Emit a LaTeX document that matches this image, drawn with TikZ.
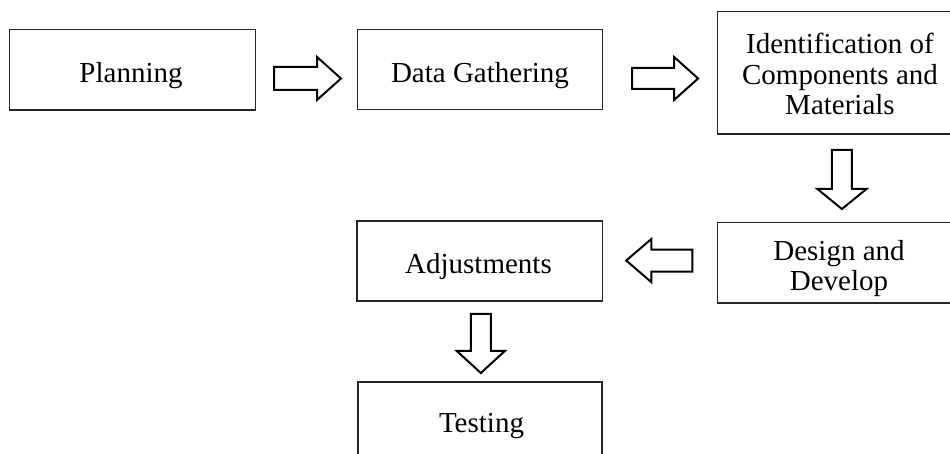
\documentclass[tikz,border=0pt]{standalone}
\usepackage{fontspec}
\setmainfont{Liberation Serif}
\usetikzlibrary{calc}
\tikzset{
  box/.style={draw=black!85, line width=0.6pt, rectangle, inner sep=0pt},
  openbox/.style={rectangle, inner sep=0pt},
  boxline/.style={draw=black!85, line width=0.6pt},
  lbl/.style={anchor=base, inner sep=0pt, font=\fontsize{14.5pt}{15.25pt}\selectfont},
  barrowline/.style={draw=black, line width=1pt, line join=miter, fill=white},
  pics/blockarrow/.style n args={4}{code={
    \draw[barrowline] (-#1/2,-#4) -- (#1/2-#2,-#4) -- (#1/2-#2,-#3) -- (#1/2,0)
      -- (#1/2-#2,#3) -- (#1/2-#2,#4) -- (-#1/2,#4) -- cycle;
  }}
}
\begin{document}
\begin{tikzpicture}[x=0.5pt,y=-0.5pt]
\useasboundingbox (0,0) rectangle (950,454);
% boxes
\node[box, minimum width=123pt,   minimum height=40.35pt] (plan)   at (132.3,69.65) {};
\node[box, minimum width=122.3pt, minimum height=40pt]    (data)   at (480,69.3) {};
\node[openbox, minimum width=122.15pt,minimum height=61pt] (ident)  at (839.85,72.7) {};
\node[openbox, minimum width=122pt,   minimum height=40pt] (design) at (840,262.7) {};
\node[box, minimum width=122.65pt,minimum height=40pt]    (adj)    at (479.65,261) {};
\node[box, minimum width=122pt,   minimum height=44pt]    (test)   at (480,426) {};
\draw[boxline] (ident.north east) -- (ident.north west) -- (ident.south west) -- (ident.south east);
\draw[boxline] (design.north east) -- (design.north west) -- (design.south west) -- (design.south east);
% texts
\node[lbl] (planT)   at (131,83) {Planning};
\node[lbl] (dataT)   at (480,83) {Data Gathering};
\node[lbl] (identA)  at (840,54) {Identification of};
\node[lbl] (identB)  at (840,85) {Components and};
\node[lbl] (identC)  at (840,115) {Materials};
\node[lbl] (designA) at (839,260.7) {Design and};
\node[lbl] (designB) at (839,290.7) {Develop};
\node[lbl] (adjT)    at (478.5,274) {Adjustments};
\node[lbl] (testT)   at (481.5,433) {Testing};
% block arrows
\pic at ($(plan.east)!0.5!(data.west)+(1,9)$) {blockarrow={67}{24}{21.5}{11.5}};
\pic at ($(data.east)!0.5!(ident.west)+(5,7.5)$) {blockarrow={66}{24}{21.5}{10.5}};
\pic[rotate=-90] at ($(ident.south)!0.5!(design.north)+(2,1.3)$) {blockarrow={59}{20}{24.5}{10}};
\pic[rotate=180] at ($(design.west)!0.5!(adj.east)+(-1,-1.3)$) {blockarrow={66}{25}{21.5}{11}};
\pic[rotate=-90] at ($(adj.south)!0.5!(test.north)+(1,2)$) {blockarrow={59}{22}{24}{10}};
\end{tikzpicture}
\end{document}
